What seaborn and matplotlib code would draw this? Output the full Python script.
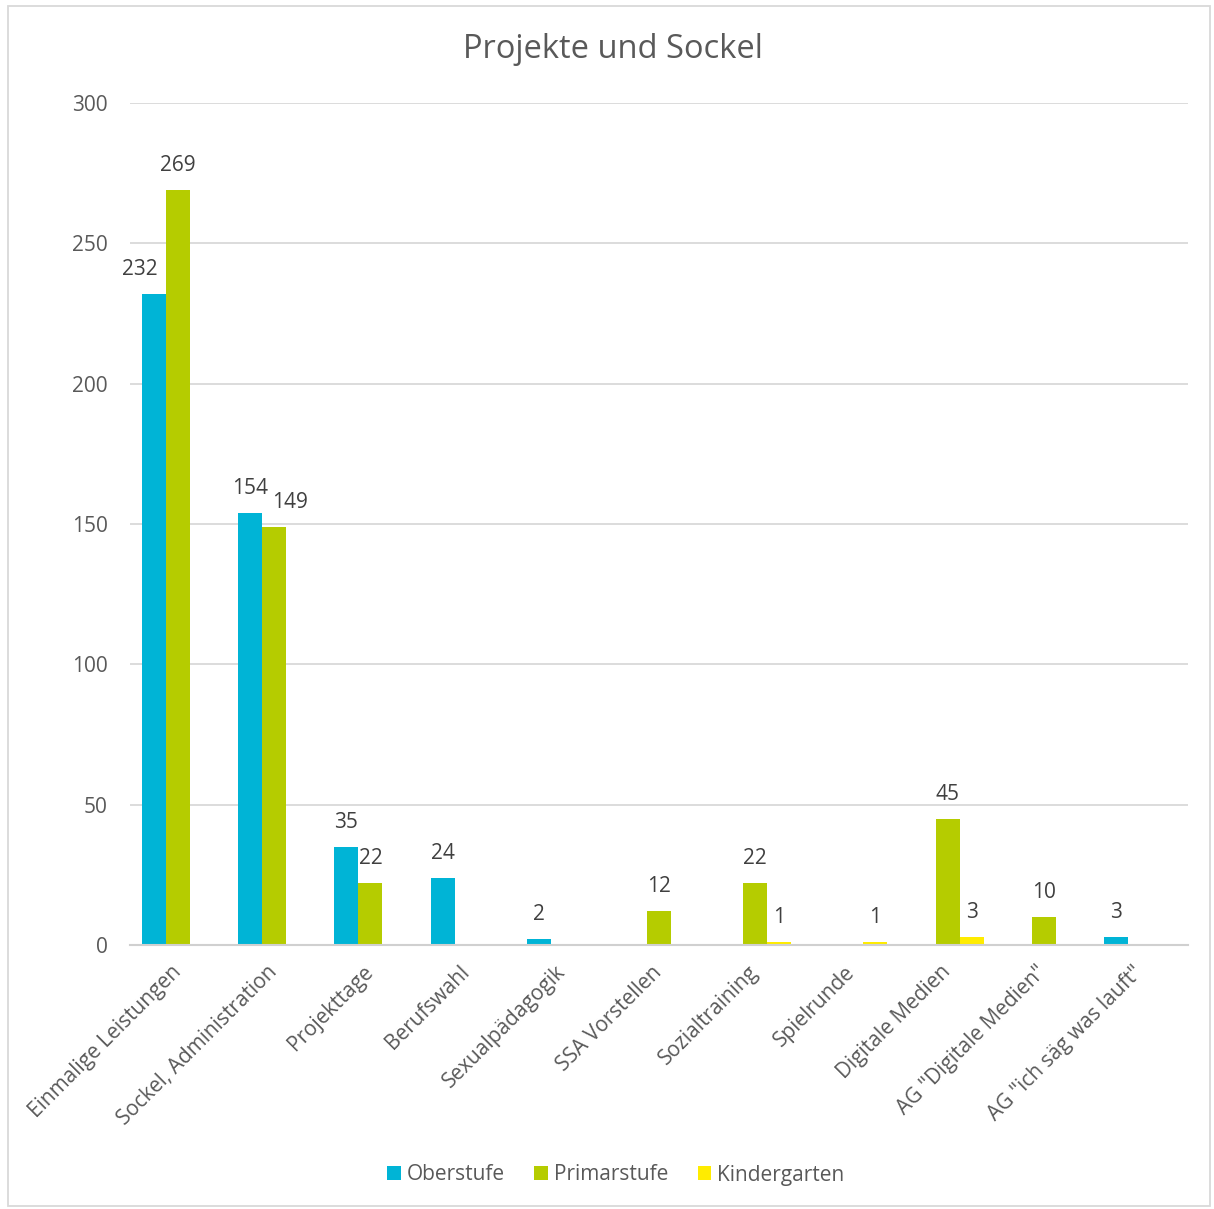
import numpy as np
import pandas as pd
import matplotlib
matplotlib.use("Agg")
import matplotlib.pyplot as plt
import seaborn as sns
from matplotlib.patches import Rectangle

categories = ["Einmalige Leistungen", "Sockel, Administration", "Projekttage", "Berufswahl",
              "Sexualpädagogik", "SSA Vorstellen", "Sozialtraining", "Spielrunde",
              "Digitale Medien", "AG \"Digitale Medien\"", "AG \"ich säg was lauft\""]
series = ["Oberstufe", "Primarstufe", "Kindergarten"]
oberstufe = [232, 154, 35, 24, 2, None, None, None, None, None, 3]
primarstufe = [269, 149, 22, None, None, 12, 22, None, 45, 10, None]
kindergarten = [None, None, None, None, None, None, 1, 1, 3, None, None]
colors = ["#00B4D6", "#B5CC00", "#FFEC00"]
yticks = [0, 50, 100, 150, 200, 250, 300]

rows = []
for s, vals in zip(series, [oberstufe, primarstufe, kindergarten]):
    for c, v in zip(categories, vals):
        if v is not None:
            rows.append({"Kategorie": c, "Serie": s, "Wert": v})
df = pd.DataFrame(rows)

sns.set_theme(style="white")
plt.rcParams["font.family"] = ["Open Sans", "DejaVu Sans"]

W, H = 1214, 1209
fig = plt.figure(figsize=(W / 100, H / 100), dpi=100)
ax = fig.add_axes([130 / W, 1 - 945 / H, (1188 - 130) / W, (945 - 103) / H])

sns.barplot(data=df, x="Kategorie", y="Wert", hue="Serie", order=categories,
            hue_order=series, palette=colors, saturation=1, width=0.75, dodge=True, ax=ax,
            edgecolor="none", linewidth=0, legend=True, errorbar=None)

ax.set_ylim(0, 300)
ax.set_xlim(-0.5, len(categories) - 0.5)
ax.set_yticks(yticks)
ax.set_yticklabels([str(t) for t in yticks], fontsize=15, color="#595959")
ax.tick_params(axis="y", length=0, pad=16)
ax.tick_params(axis="x", length=0, pad=4)
ax.yaxis.grid(True, color="#D9D9D9", linewidth=1.3)
ax.set_axisbelow(True)
for sp in ["top", "right", "left"]:
    ax.spines[sp].set_visible(False)
ax.spines["bottom"].set_color("#D0D0D0")
ax.spines["bottom"].set_linewidth(1.5)
ax.set_xlabel("")
ax.set_ylabel("")
ax.set_xticks(range(len(categories)))
ax.set_xticklabels(categories, rotation=45, ha="right", rotation_mode="anchor",
                   fontsize=15, color="#595959", va="center")
for lab in ax.get_xticklabels():
    lab.set_y(-0.022)

# Excel nudged a few labels sideways to keep them apart (pixel offsets)
nudges = {("Oberstufe", "Einmalige Leistungen"): -14, ("Primarstufe", "Sockel, Administration"): 16}
for s, cont in zip(series, ax.containers):
    present = [c for c, v in zip(categories, {"Oberstufe": oberstufe, "Primarstufe": primarstufe,
                                              "Kindergarten": kindergarten}[s]) if v is not None]
    labels = [("%d" % v) for v in cont.datavalues]
    anns = ax.bar_label(cont, labels=labels, padding=10, fontsize=15, color="#404040")
    for c, ann in zip(present, anns):
        dx = nudges.get((s, c), 0)
        if dx:
            x0, y0 = ann.xyann
            ann.xyann = (x0 + dx * 0.72, y0)

leg = ax.legend(loc="center", bbox_to_anchor=((616 - 130) / (1188 - 130), -(1175 - 945) / (945 - 103)),
                ncol=3, frameon=False, fontsize=15, handlelength=0.65, handleheight=0.65,
                handletextpad=0.3, columnspacing=1.4)
for t in leg.get_texts():
    t.set_color("#595959")

fig.text(0.505, 1 - 49 / H, "Projekte und Sockel", ha="center", va="center",
         fontsize=23.5, color="#595959")

fig.patches.append(Rectangle((8 / W, 1 - 1206 / H), (1210 - 8) / W, (1206 - 6) / H,
                             transform=fig.transFigure, fill=False,
                             edgecolor="#D9D9D9", linewidth=1.3))

fig.savefig("out.png", dpi=100)
